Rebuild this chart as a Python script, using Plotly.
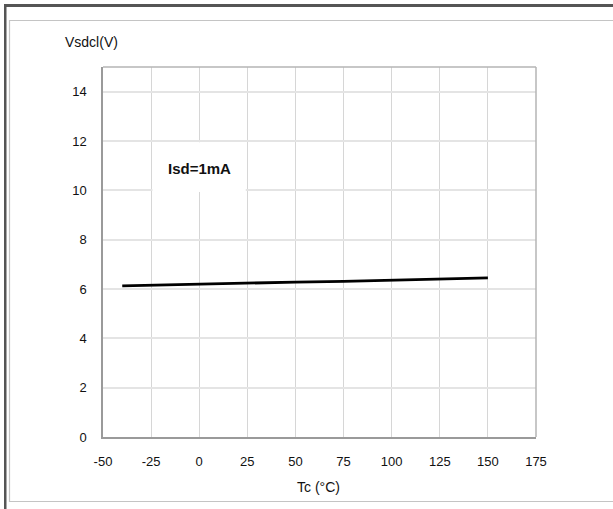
import plotly.graph_objects as go

temps = [-40, -25, 0, 25, 50, 75, 100, 125, 150]
vsdcl = [6.13, 6.16, 6.20, 6.24, 6.28, 6.31, 6.35, 6.38, 6.45]
x_ticks = [-50, -25, 0, 25, 50, 75, 100, 125, 150, 175]
y_ticks = [0, 2, 4, 6, 8, 10, 12, 14]

W, H = 613, 509
L, R, T, B = 103, 536, 67, 437

def px(x):
    return (x - L) / (R - L)

def py(y):
    return (B - y) / (B - T)

fig = go.Figure()
fig.add_trace(go.Scatter(x=temps, y=vsdcl, mode="lines",
                         line=dict(color="black", width=2.8), showlegend=False,
                         hoverinfo="skip"))

font = dict(family="Liberation Sans, Arial, sans-serif", size=13, color="#111")

fig.update_layout(
    width=W, height=H,
    margin=dict(l=L, r=W - R, t=T, b=H - B),
    paper_bgcolor="white", plot_bgcolor="white",
    font=font,
    xaxis=dict(range=[-50, 175], tickvals=x_ticks, ticktext=[str(v) for v in x_ticks],
               showgrid=True, gridcolor="#d6d6d6", gridwidth=1,
               showline=True, linecolor="#9a9a9a", linewidth=1.5, mirror=False,
               zeroline=False, ticks="", ticklabelstandoff=12, fixedrange=True),
    yaxis=dict(range=[0, 15], tickvals=y_ticks, ticktext=[str(v) for v in y_ticks],
               showgrid=True, gridcolor="#e4e4e4", gridwidth=1.5,
               showline=True, linecolor="#9a9a9a", linewidth=1.5,
               zeroline=False, ticks="", ticklabelstandoff=12, fixedrange=True),
)

shapes = [
    dict(type="line", xref="paper", yref="paper", x0=0, x1=1, y0=1, y1=1,
         line=dict(color="#b5b5b5", width=1.5)),
    dict(type="line", xref="paper", yref="paper", x0=1, x1=1, y0=0, y1=1,
         line=dict(color="#b5b5b5", width=1.5)),
    dict(type="rect", xref="x", yref="y", x0=-24.3, x1=24.2, y0=9.93, y1=11.95,
         fillcolor="white", line=dict(width=0), layer="between"),
    # dark outer frame: left and top strips
    dict(type="rect", xref="paper", yref="paper", x0=px(4), x1=px(6.5), y0=py(4), y1=py(509),
         line=dict(width=0), fillcolor="#555555"),
    dict(type="rect", xref="paper", yref="paper", x0=px(4), x1=px(613), y0=py(6.5), y1=py(4),
         line=dict(width=0), fillcolor="#555555"),
    # light inner frame
    dict(type="rect", xref="paper", yref="paper", x0=px(9.5), x1=px(640), y0=py(20.5), y1=py(501.5),
         line=dict(color="#c4c4c4", width=1.2), fillcolor="rgba(0,0,0,0)"),
]
fig.update_layout(shapes=shapes)

fig.add_annotation(x=0, y=10.88, xref="x", yref="y", text="<b>Isd=1mA</b>",
                   showarrow=False, font=dict(family="Liberation Sans, Arial, sans-serif", size=15, color="#111"))
fig.add_annotation(x=px(63), y=py(42), xref="paper", yref="paper", text="Vsdcl(V)",
                   xanchor="left", yanchor="middle", showarrow=False,
                   font=dict(family="Liberation Sans, Arial, sans-serif", size=14, color="#111"))
fig.add_annotation(x=px(318), y=py(487), xref="paper", yref="paper", text="Tc (°C)",
                   xanchor="center", yanchor="middle", showarrow=False,
                   font=dict(family="Liberation Sans, Arial, sans-serif", size=14, color="#111"))

post = (
    "document.body.style.margin='0px';"
    "document.body.style.overflow='hidden';"
    "var d=document.createElement('div');"
    "d.style.cssText='position:absolute;left:4px;top:4px;width:609px;height:2.5px;background:#555;z-index:10;pointer-events:none';"
    "document.body.appendChild(d);"
)
fig.write_html("out.html", config={"displayModeBar": False}, post_script=post)
